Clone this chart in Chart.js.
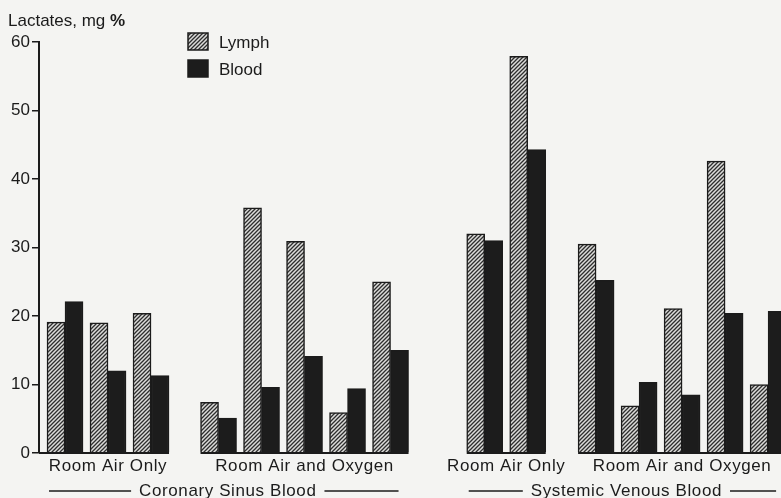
<!DOCTYPE html>
<html>
<head>
<meta charset="utf-8">
<script src="https://cdn.jsdelivr.net/npm/chart.js@4.4.1/dist/chart.umd.min.js"></script>
<style>
  html, body { margin: 0; padding: 0; background: #f4f4f2; overflow: hidden; }
  #wrap { width: 781px; height: 498px; position: relative; }
</style>
</head>
<body>
<div id="wrap"><canvas id="chart"></canvas></div>
<script>
// values (mg %)
const groupNames = ['Room Air Only', 'Room Air and Oxygen', 'Room Air Only', 'Room Air and Oxygen'];
const groupSizes = [3, 5, 2, 5];
const sectionNames = ['Coronary Sinus Blood', 'Systemic Venous Blood'];
const sectionGroups = [2, 2];
const lymph = [19.1, 19.0, 20.4, 7.4, 35.8, 30.9, 5.9, 25.0, 32.0, 57.9, 30.5, 6.9, 21.1, 42.6, 10.0];
const blood = [22.1, 12.0, 11.3, 5.1, 9.6, 14.1, 9.4, 15.0, 31.0, 44.3, 25.2, 10.3, 8.5, 20.4, 20.7];
const yTicks = [0, 10, 20, 30, 40, 50, 60];

// spacing between groups, in pair widths
const groupGaps = [1.57, 2.19, 1.59];
const barW = 18;
const ink = '#1b1b1b';
const FONT = '"Liberation Sans", Arial, sans-serif';

const slots = [];
let pos = 0;
groupSizes.forEach((n, g) => {
  for (let i = 0; i < n; i++) {
    slots.push(pos);
    if (i < n - 1) pos += 1;
  }
  if (g < groupGaps.length) pos += groupGaps[g];
});

const makeHatch = () => {
  const c = document.createElement('canvas');
  c.width = 4;
  c.height = 4;
  const p = c.getContext('2d');
  p.fillStyle = '#dcdcda';
  p.fillRect(0, 0, 4, 4);
  p.strokeStyle = '#2e2e2e';
  p.lineWidth = 1.3;
  p.beginPath();
  p.moveTo(-1, 5); p.lineTo(5, -1);
  p.moveTo(-1, 1); p.lineTo(1, -1);
  p.moveTo(3, 5); p.lineTo(5, 3);
  p.stroke();
  return p.createPattern(c, 'repeat');
};
const hatch = makeHatch();

const decor = {
  id: 'decor',
  afterDraw(chart) {
    const { ctx, chartArea, scales: { x, y } } = chart;
    const base = y.getPixelForValue(0);
    ctx.save();
    ctx.fillStyle = ink;
    ctx.strokeStyle = ink;
    ctx.textBaseline = 'alphabetic';

    // axis title
    ctx.font = '17px ' + FONT;
    ctx.textAlign = 'left';
    const t = 'Lactates, mg ';
    ctx.fillText(t, 8, 26);
    const tw = ctx.measureText(t).width;
    ctx.font = 'bold 17px ' + FONT;
    ctx.fillText('%', 8 + tw, 26);

    // legend
    const items = chart.data.datasets;
    items.forEach((ds, i) => {
      const ly = 33 + i * 27;
      ctx.fillStyle = ds.backgroundColor;
      ctx.fillRect(188, ly, 20, 17);
      ctx.lineWidth = 1.5;
      ctx.strokeStyle = ink;
      ctx.strokeRect(188, ly, 20, 17);
      ctx.fillStyle = ink;
      ctx.font = '17px ' + FONT;
      ctx.textAlign = 'left';
      ctx.fillText(ds.label, 219, ly + 15);
    });

    // group baselines and labels
    const edges = [];
    let k = 0;
    groupNames.forEach((name, g) => {
      const first = x.getPixelForValue(slots[k]);
      const last = x.getPixelForValue(slots[k + groupSizes[g] - 1]);
      const left = g === 0 ? chartArea.left : first - barW;
      const right = last + barW;
      edges.push([first - barW, right]);
      ctx.lineWidth = 2;
      ctx.beginPath();
      ctx.moveTo(left, base);
      ctx.lineTo(right, base);
      ctx.stroke();
      ctx.font = '17px ' + FONT;
      ctx.letterSpacing = '0.6px';
      ctx.textAlign = 'center';
      ctx.fillText(name, (first + last) / 2, 471);
      k += groupSizes[g];
    });

    // section labels with rules either side
    let gi = 0;
    sectionNames.forEach((name, s) => {
      const left = edges[gi][0];
      const right = edges[gi + sectionGroups[s] - 1][1];
      const mid = (left + right) / 2;
      ctx.font = '17px ' + FONT;
      ctx.letterSpacing = '0.6px';
      ctx.textAlign = 'center';
      ctx.fillText(name, mid, 496);
      const w = ctx.measureText(name).width;
      ctx.lineWidth = 1.5;
      ctx.beginPath();
      ctx.moveTo(left + 2, 491);
      ctx.lineTo(mid - w / 2 - 8, 491);
      ctx.moveTo(mid + w / 2 + 8, 491);
      ctx.lineTo(right - 10, 491);
      ctx.stroke();
      gi += sectionGroups[s];
    });
    ctx.restore();
  },
};

new Chart(document.getElementById('chart'), {
  type: 'bar',
  data: {
    datasets: [
      {
        label: 'Lymph',
        data: lymph.map((v, i) => ({ x: slots[i], y: v })),
        backgroundColor: hatch,
        borderColor: ink,
        borderWidth: 1.5,
      },
      {
        label: 'Blood',
        data: blood.map((v, i) => ({ x: slots[i], y: v })),
        backgroundColor: '#1c1c1c',
        borderColor: ink,
        borderWidth: 1.5,
      },
    ],
  },
  options: {
    responsive: true,
    maintainAspectRatio: false,
    animation: false,
    barThickness: barW,
    layout: { padding: { top: 42, bottom: 45, left: 0, right: 0 } },
    plugins: {
      legend: { display: false },
      tooltip: { enabled: false },
    },
    scales: {
      x: {
        type: 'linear',
        display: false,
        offset: false,
        min: -0.605,
        max: 16.65,
      },
      y: {
        min: 0,
        max: 60,
        afterBuildTicks: (scale) => {
          scale.ticks = yTicks.map((v) => ({ value: v }));
        },
        afterFit: (scale) => {
          scale.width = 39;
        },
        ticks: {
          color: ink,
          padding: 2,
          font: { family: FONT, size: 17 },
        },
        grid: {
          drawOnChartArea: false,
          drawTicks: true,
          tickLength: 7,
          color: ink,
          lineWidth: 1.5,
        },
        border: { display: true, color: ink, width: 2 },
      },
    },
  },
  plugins: [decor],
});
</script>
</body>
</html>
